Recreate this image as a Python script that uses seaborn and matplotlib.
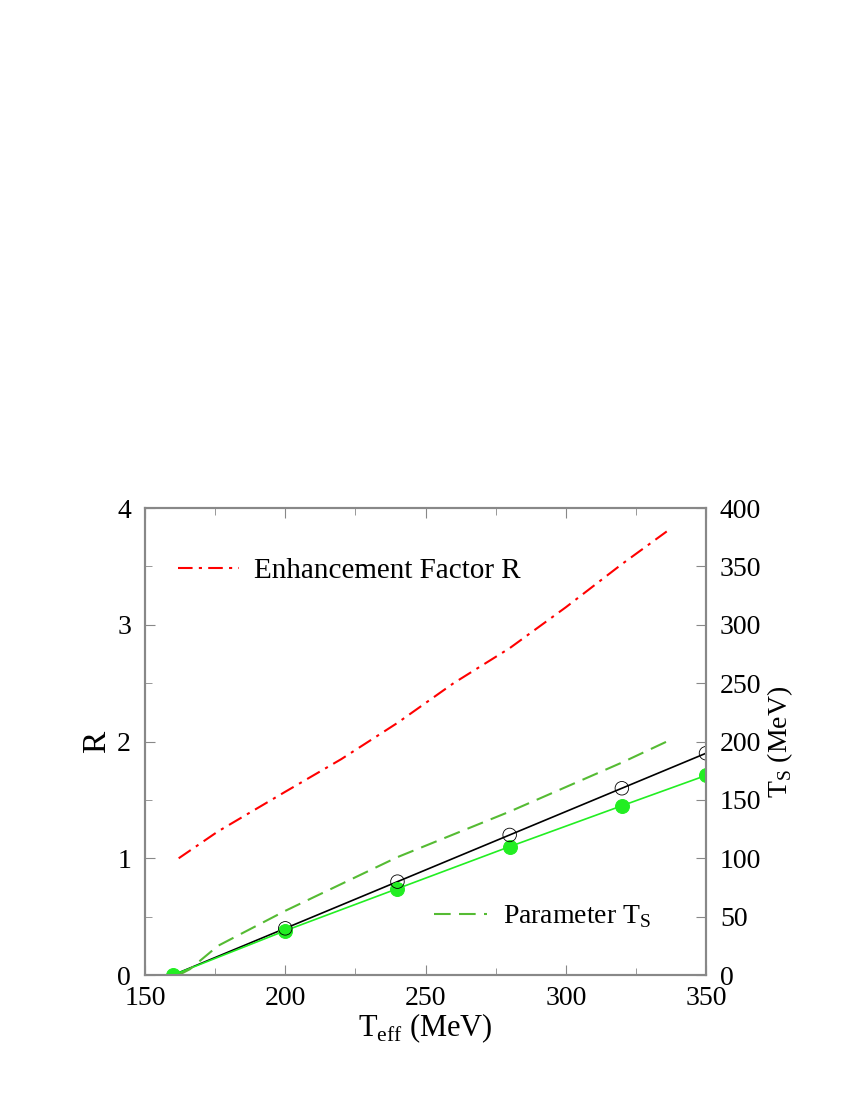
import numpy as np
import pandas as pd
import matplotlib
matplotlib.use("Agg")
import matplotlib.pyplot as plt
from matplotlib.ticker import MultipleLocator
from matplotlib.lines import Line2D
import seaborn as sns

# enhancement factor R (left axis)
t_r = [162, 176, 200, 220, 240, 260, 280, 300, 320, 336]
r_vals = [1.0, 1.23, 1.57, 1.85, 2.16, 2.50, 2.80, 3.15, 3.52, 3.80]

# parameter T_S (right axis, MeV)
t_s = [162, 166, 176, 200, 240, 280, 300, 320, 336]
ts_vals = [0, 5, 25, 55, 101, 140, 161, 182, 200]

# open circles (black) and filled circles (green), in R units
t_pts = [160, 200, 240, 280, 320, 350]
open_vals = [0.0, 0.40, 0.80, 1.20, 1.60, 1.90]
fill_vals = [0.0, 0.38, 0.74, 1.10, 1.45, 1.71]

sns.set_style("ticks")
plt.rcParams['font.family'] = ['Liberation Serif', 'DejaVu Serif']
plt.rcParams['mathtext.fontset'] = 'custom'
plt.rcParams['mathtext.rm'] = 'Liberation Serif'
plt.rcParams['text.color'] = 'black'
plt.rcParams['axes.labelcolor'] = 'black'
plt.rcParams['xtick.labelcolor'] = 'black'
plt.rcParams['ytick.labelcolor'] = 'black'

fig = plt.figure(figsize=(8.5, 11), dpi=100)
ax = fig.add_axes([0.1706, 0.1136, 0.66, 0.4245])

df_r = pd.DataFrame({'T': t_r, 'R': r_vals})
df_p = pd.DataFrame({'T': t_pts, 'open': open_vals, 'fill': fill_vals})

sns.lineplot(data=df_p, x='T', y='open', ax=ax, color='black', lw=1.2, zorder=3)
ax.scatter(df_p['T'][1:], df_p['open'][1:], s=95, facecolors='none', edgecolors='black', lw=0.6, zorder=4)
sns.lineplot(data=df_p, x='T', y='fill', ax=ax, color='#22ee22', lw=1.2, zorder=3,
             marker='o', markersize=10, markeredgecolor='#22ee22')
sns.lineplot(data=df_r, x='T', y='R', ax=ax, color='red', lw=1.5, zorder=3)
ax.lines[-1].set_dashes([7, 3, 1.5, 3])

ax2 = ax.twinx()
df_s = pd.DataFrame({'T': t_s, 'TS': ts_vals})
sns.lineplot(data=df_s, x='T', y='TS', ax=ax2, color='#55bb33', lw=1.5)
ax2.lines[-1].set_dashes([8, 4])

ax.set_xlim(150, 350)
ax.set_ylim(0, 4)
ax2.set_ylim(0, 400)
ax.xaxis.set_major_locator(MultipleLocator(50))
ax.xaxis.set_minor_locator(MultipleLocator(25))
ax.yaxis.set_major_locator(MultipleLocator(1))
ax.yaxis.set_minor_locator(MultipleLocator(0.5))
ax2.yaxis.set_major_locator(MultipleLocator(50))

ax.tick_params(which='both', direction='in', top=True, right=False, labelsize=20,
               color='#888888', labelcolor='black')
ax.tick_params(axis='x', pad=8)
ax.tick_params(axis='y', pad=10)
ax.tick_params(which='major', length=7)
ax.tick_params(which='minor', length=5)
ax2.tick_params(direction='in', length=7, labelsize=20, color='#888888', pad=10, labelcolor='black')
for a in (ax, ax2):
    for sp in a.spines.values():
        sp.set_visible(True)
        sp.set_color('#888888')
        sp.set_linewidth(1.5)

ax.set_xlabel(r'T$_{\rm eff}$ (MeV)', fontsize=22, labelpad=0, color='black')
ax.set_ylabel('R', fontsize=24, labelpad=4, color='black')
ax2.set_ylabel(r'T$_{\rm S}$ (MeV)', fontsize=20, labelpad=3, color='black')

h1 = Line2D([], [], color='red', lw=1.5, dashes=[7, 3, 1.5, 3])
leg1 = ax.legend([h1], ['Enhancement Factor R'], loc='center left', bbox_to_anchor=(0.059, 0.865),
                 frameon=False, fontsize=21, handlelength=2.1, handletextpad=0.5,
                 borderaxespad=0, borderpad=0, labelcolor='black')
ax.add_artist(leg1)
h2 = Line2D([], [], color='#55bb33', lw=1.5, dashes=[8, 4])
ax.legend([h2], [r'Parameter T$_{\rm S}$'], loc='center left', bbox_to_anchor=(0.515, 0.125),
          frameon=False, fontsize=20, handlelength=1.9, handletextpad=0.6,
          borderaxespad=0, borderpad=0, labelcolor='black')

fig.savefig('out.png', dpi=100)
